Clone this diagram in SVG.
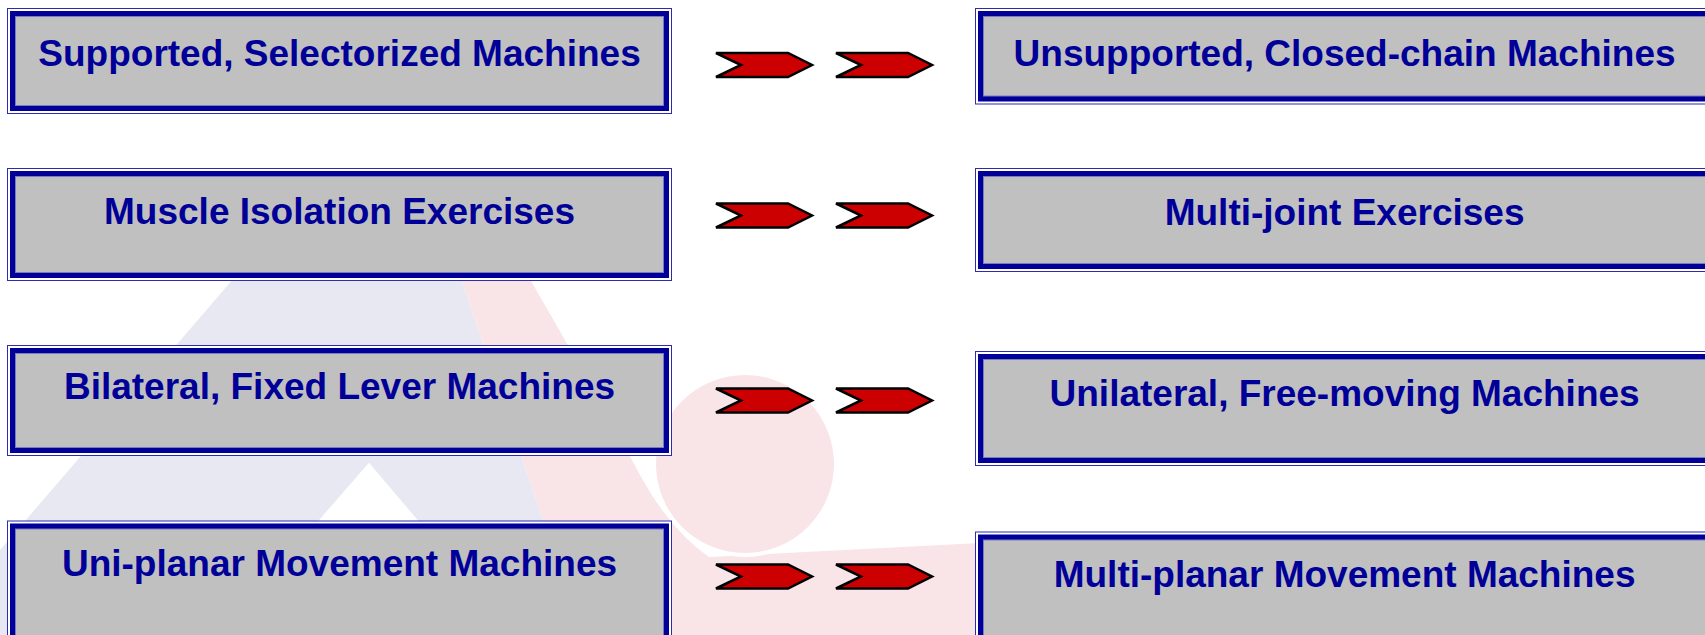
<svg xmlns="http://www.w3.org/2000/svg" xmlns:xlink="http://www.w3.org/1999/xlink" width="1705" height="635" viewBox="0 0 1705 635">
<style>
.bg{fill:#ffffff}
.o{fill:#ffffff;stroke:#2b2bb3;stroke-width:1}
.t{fill:#000099}
.g{fill:#c0c0c0;stroke:#7a7ac4;stroke-width:1}
.lbl{font-family:"Liberation Sans",Arial,sans-serif;font-weight:bold;font-size:37px;fill:#000099;text-anchor:middle}
.chev{fill:#cc0000;stroke:#000000;stroke-width:2.5;stroke-linejoin:miter}
.lav{fill:#e8e8f2}
.pink{fill:#f9e5e7}
</style>
<defs>
<polygon id="chev" class="chev" points="0,0 72,0 96,12 72,24 0,24 25,12"/>
</defs>
<rect class="bg" x="0" y="0" width="1705" height="635"/>
<g id="watermark">
<polygon class="lav" points="301,200 434.5,200 582,635 -73,635"/>
<polygon points="369,462.7 515,635 219,635" fill="#ffffff"/>
<path class="pink" d="M434.5,200 L482,200 L531,281 Q600,400 640,475 Q670,530 709,557 L980,543 L1010,541 L1010,635 L582,635 Z"/>
<circle cx="745" cy="464" r="91" class="pink" stroke="#ffffff" stroke-width="4"/>
</g>
<g id="connectors">
<use xlink:href="#chev" x="716" y="53"/>
<use xlink:href="#chev" x="836" y="53"/>
<use xlink:href="#chev" x="716" y="203.5"/>
<use xlink:href="#chev" x="836" y="203.5"/>
<use xlink:href="#chev" x="716" y="388.5"/>
<use xlink:href="#chev" x="836" y="388.5"/>
<use xlink:href="#chev" x="716" y="564.5"/>
<use xlink:href="#chev" x="836" y="564.5"/>
</g>
<g id="node-l1">
<rect class="o" x="7.5" y="8.5" width="664" height="105"/>
<rect class="t" x="10" y="11" width="659" height="100"/>
<rect class="g" x="15.5" y="16.5" width="648" height="89"/>
<text class="lbl" x="339.5" y="65.5">Supported, Selectorized Machines</text>
</g>
<g id="node-l2">
<rect class="o" x="7.5" y="168.5" width="664" height="112"/>
<rect class="t" x="10" y="171" width="659" height="107"/>
<rect class="g" x="15.5" y="176.5" width="648" height="96"/>
<text class="lbl" x="339.5" y="223.5">Muscle Isolation Exercises</text>
</g>
<g id="node-l3">
<rect class="o" x="7.5" y="345.5" width="664" height="110"/>
<rect class="t" x="10" y="348" width="659" height="105"/>
<rect class="g" x="15.5" y="353.5" width="648" height="94"/>
<text class="lbl" x="339.5" y="399">Bilateral, Fixed Lever Machines</text>
</g>
<g id="node-l4">
<rect class="o" x="7.5" y="521" width="664" height="130"/>
<rect class="t" x="10" y="523.5" width="659" height="125"/>
<rect class="g" x="15.5" y="529" width="648" height="114"/>
<text class="lbl" x="339.5" y="576">Uni-planar Movement Machines</text>
</g>
<g id="node-r1">
<rect class="o" x="975.5" y="8.5" width="739" height="95.5"/>
<rect class="t" x="978" y="11" width="734" height="90.5"/>
<rect class="g" x="983.5" y="16.5" width="723" height="79.5"/>
<text class="lbl" x="1344.6" y="65.5">Unsupported, Closed-chain Machines</text>
</g>
<g id="node-r2">
<rect class="o" x="975.5" y="168.5" width="739" height="103"/>
<rect class="t" x="978" y="171" width="734" height="98"/>
<rect class="g" x="983.5" y="176.5" width="723" height="87"/>
<text class="lbl" x="1344.6" y="224.5">Multi-joint Exercises</text>
</g>
<g id="node-r3">
<rect class="o" x="975.5" y="351.5" width="739" height="114"/>
<rect class="t" x="978" y="354" width="734" height="109"/>
<rect class="g" x="983.5" y="359.5" width="723" height="98"/>
<text class="lbl" x="1344.6" y="405.5">Unilateral, Free-moving Machines</text>
</g>
<g id="node-r4">
<rect class="o" x="975.5" y="532" width="739" height="120"/>
<rect class="t" x="978" y="534.5" width="734" height="115"/>
<rect class="g" x="983.5" y="540" width="723" height="104"/>
<text class="lbl" x="1344.6" y="587">Multi-planar Movement Machines</text>
</g>
</svg>
